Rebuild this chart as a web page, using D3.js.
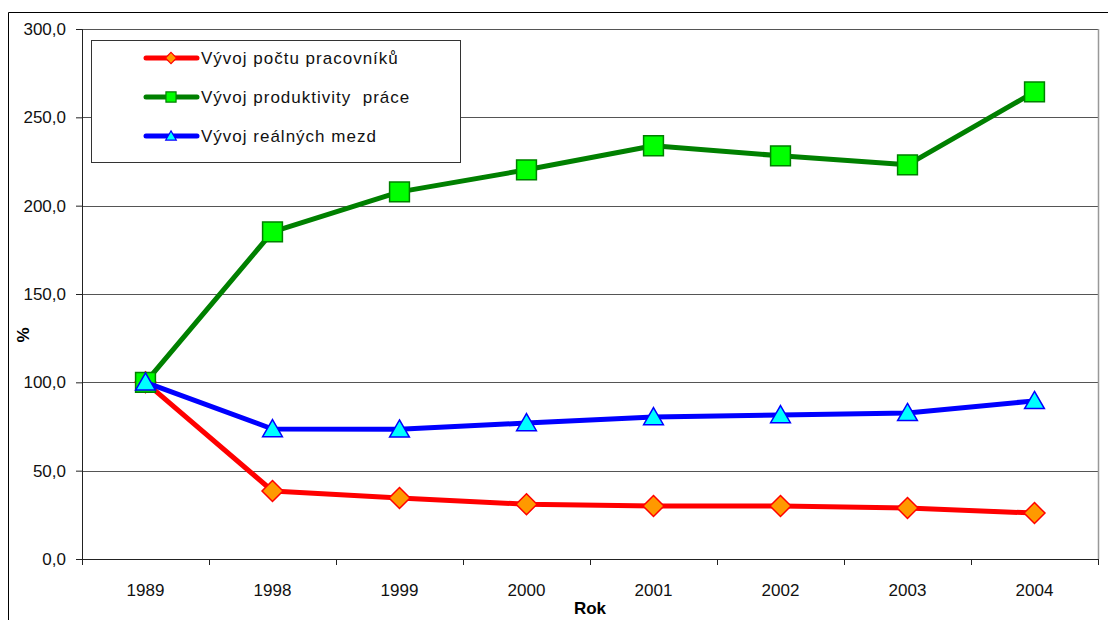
<!DOCTYPE html>
<html>
  <head>
    <meta charset="utf-8">
    <title>Vývoj</title>
    <script src="https://cdn.jsdelivr.net/npm/d3@7"></script>
    <style>
      body { margin: 0; background: #fff; }
      text { font-family: "Liberation Sans", Arial, sans-serif; }
    </style>
  </head>
  <body>
    <svg width="1108" height="620" id="mainsvg"></svg>
    <script>
      const years = ["1989", "1998", "1999", "2000", "2001", "2002", "2003", "2004"];
      const pracovnici = [100, 38.5, 34.5, 31, 30, 30, 28.9, 26];
      const produktivita = [100, 185.2, 207.8, 220.3, 233.9, 228.2, 223.1, 264.4];
      const mzdy = [100, 73.6, 73.4, 77, 80.4, 81.5, 82.7, 89.5];
      const yTicks = [0, 50, 100, 150, 200, 250, 300];

      const series = [
        { name: "Vývoj počtu pracovníků", values: pracovnici, line: "#ff0000", fill: "#ff9900", sym: d3.symbolDiamond2 },
        { name: "Vývoj produktivity  práce", values: produktivita, line: "#008000", fill: "#00ff00", sym: d3.symbolSquare2 },
        { name: "Vývoj reálných mezd", values: mzdy, line: "#0000ff", fill: "#00ffff", sym: d3.symbolTriangle2 },
      ];

      const svg = d3.select("#mainsvg");
      const margin = { top: 29, right: 10, bottom: 61, left: 82 };
      const innerWidth = 1098 - margin.left;
      const innerHeight = 559 - margin.top;

      // outer chart frame (only left and top edges visible)
      svg.append("path")
        .attr("d", "M8.5,620 V12.5 H1108")
        .attr("fill", "none").attr("stroke", "#000");

      const g = svg.append("g")
        .attr("transform", `translate(${margin.left}, ${margin.top})`);

      const xScale = d3.scaleBand().domain(years).range([0, innerWidth]);
      const yScale = d3.scaleLinear().domain([0, 300]).range([innerHeight, 0]);

      // grid lines
      g.append("g").selectAll("line")
        .data(yTicks.filter(d => d > 0))
        .join("line")
        .attr("x1", 0).attr("x2", innerWidth)
        .attr("y1", d => Math.round(yScale(d)) + 0.5)
        .attr("y2", d => Math.round(yScale(d)) + 0.5)
        .attr("stroke", "#555").attr("stroke-width", 1);

      // plot border right
      g.append("line")
        .attr("x1", innerWidth + 0.5).attr("x2", innerWidth + 0.5)
        .attr("y1", yScale(300)).attr("y2", innerHeight)
        .attr("stroke", "#999").attr("stroke-width", 1.5);

      // y axis
      const yAxis = d3.axisLeft(yScale).tickValues(yTicks)
        .tickFormat(d => d3.format(".1f")(d).replace(".", ","))
        .tickSize(6).tickPadding(10);
      const yg = g.append("g").call(yAxis)
        .attr("font-size", 17).attr("font-family", "Liberation Sans, Arial, sans-serif");
      yg.select(".domain").attr("stroke", "#222");
      yg.selectAll(".tick line").attr("stroke", "#222");
      yg.selectAll(".tick text").attr("fill", "#111");

      // x axis, ticks between categories
      const xg = g.append("g").attr("transform", `translate(0, ${innerHeight})`);
      xg.append("line")
        .attr("x1", 0).attr("x2", innerWidth)
        .attr("y1", 0.5).attr("y2", 0.5)
        .attr("stroke", "#222");
      const bounds = years.map(y => xScale(y)).concat([innerWidth]);
      xg.selectAll(".sep").data(bounds).join("line")
        .attr("x1", d => Math.round(d) + 0.5).attr("x2", d => Math.round(d) + 0.5)
        .attr("y1", 0).attr("y2", 6)
        .attr("stroke", "#222");
      xg.selectAll(".lbl").data(years).join("text")
        .attr("x", d => xScale(d) + xScale.bandwidth() / 2)
        .attr("y", 37)
        .attr("text-anchor", "middle")
        .attr("font-size", 17).attr("fill", "#111")
        .text(d => d);

      // axis titles
      svg.append("text")
        .attr("x", 590).attr("y", 614)
        .attr("text-anchor", "middle")
        .attr("font-size", 17).attr("font-weight", "bold")
        .text("Rok");
      svg.append("text")
        .attr("transform", "translate(29, 335) rotate(-90)")
        .attr("text-anchor", "middle")
        .attr("font-size", 17).attr("font-weight", "bold")
        .text("%");

      // lines and markers
      const line = d3.line()
        .x((d, i) => xScale(years[i]) + xScale.bandwidth() / 2)
        .y(d => yScale(d));

      series.forEach(s => {
        g.append("path")
          .datum(s.values)
          .attr("d", line)
          .attr("fill", "none")
          .attr("stroke", s.line)
          .attr("stroke-width", 5)
          .attr("stroke-linejoin", "round");
        const size = s.sym === d3.symbolSquare2 ? 500 : 280;
        g.selectAll(null).data(s.values).join("path")
          .attr("transform", (d, i) => `translate(${xScale(years[i]) + xScale.bandwidth() / 2}, ${yScale(d) + (s.sym === d3.symbolTriangle2 ? 2 : 0)})`)
          .attr("d", d3.symbol().type(s.sym).size(size))
          .attr("fill", s.fill)
          .attr("stroke", s.line)
          .attr("stroke-width", 1.5);
      });

      // legend
      const legend = svg.append("g");
      legend.append("rect")
        .attr("x", 91.5).attr("y", 40.5)
        .attr("width", 369).attr("height", 122)
        .attr("fill", "#fff").attr("stroke", "#333");
      series.forEach((s, i) => {
        const y = 58 + i * 39;
        legend.append("line")
          .attr("x1", 146).attr("x2", 197)
          .attr("y1", y).attr("y2", y)
          .attr("stroke", s.line).attr("stroke-width", 5)
          .attr("stroke-linecap", "round");
        legend.append("path")
          .attr("transform", `translate(171, ${y + (s.sym === d3.symbolTriangle2 ? 1 : 0)})`)
          .attr("d", d3.symbol().type(s.sym).size(s.sym === d3.symbolSquare2 ? 130 : 80))
          .attr("fill", s.fill).attr("stroke", s.line).attr("stroke-width", 1.2);
        legend.append("text")
          .attr("x", 201).attr("y", y + 6)
          .attr("font-size", 17).attr("fill", "#111")
          .attr("letter-spacing", 1)
          .attr("xml:space", "preserve")
          .text(s.name);
      });
    </script>
  </body>
</html>
